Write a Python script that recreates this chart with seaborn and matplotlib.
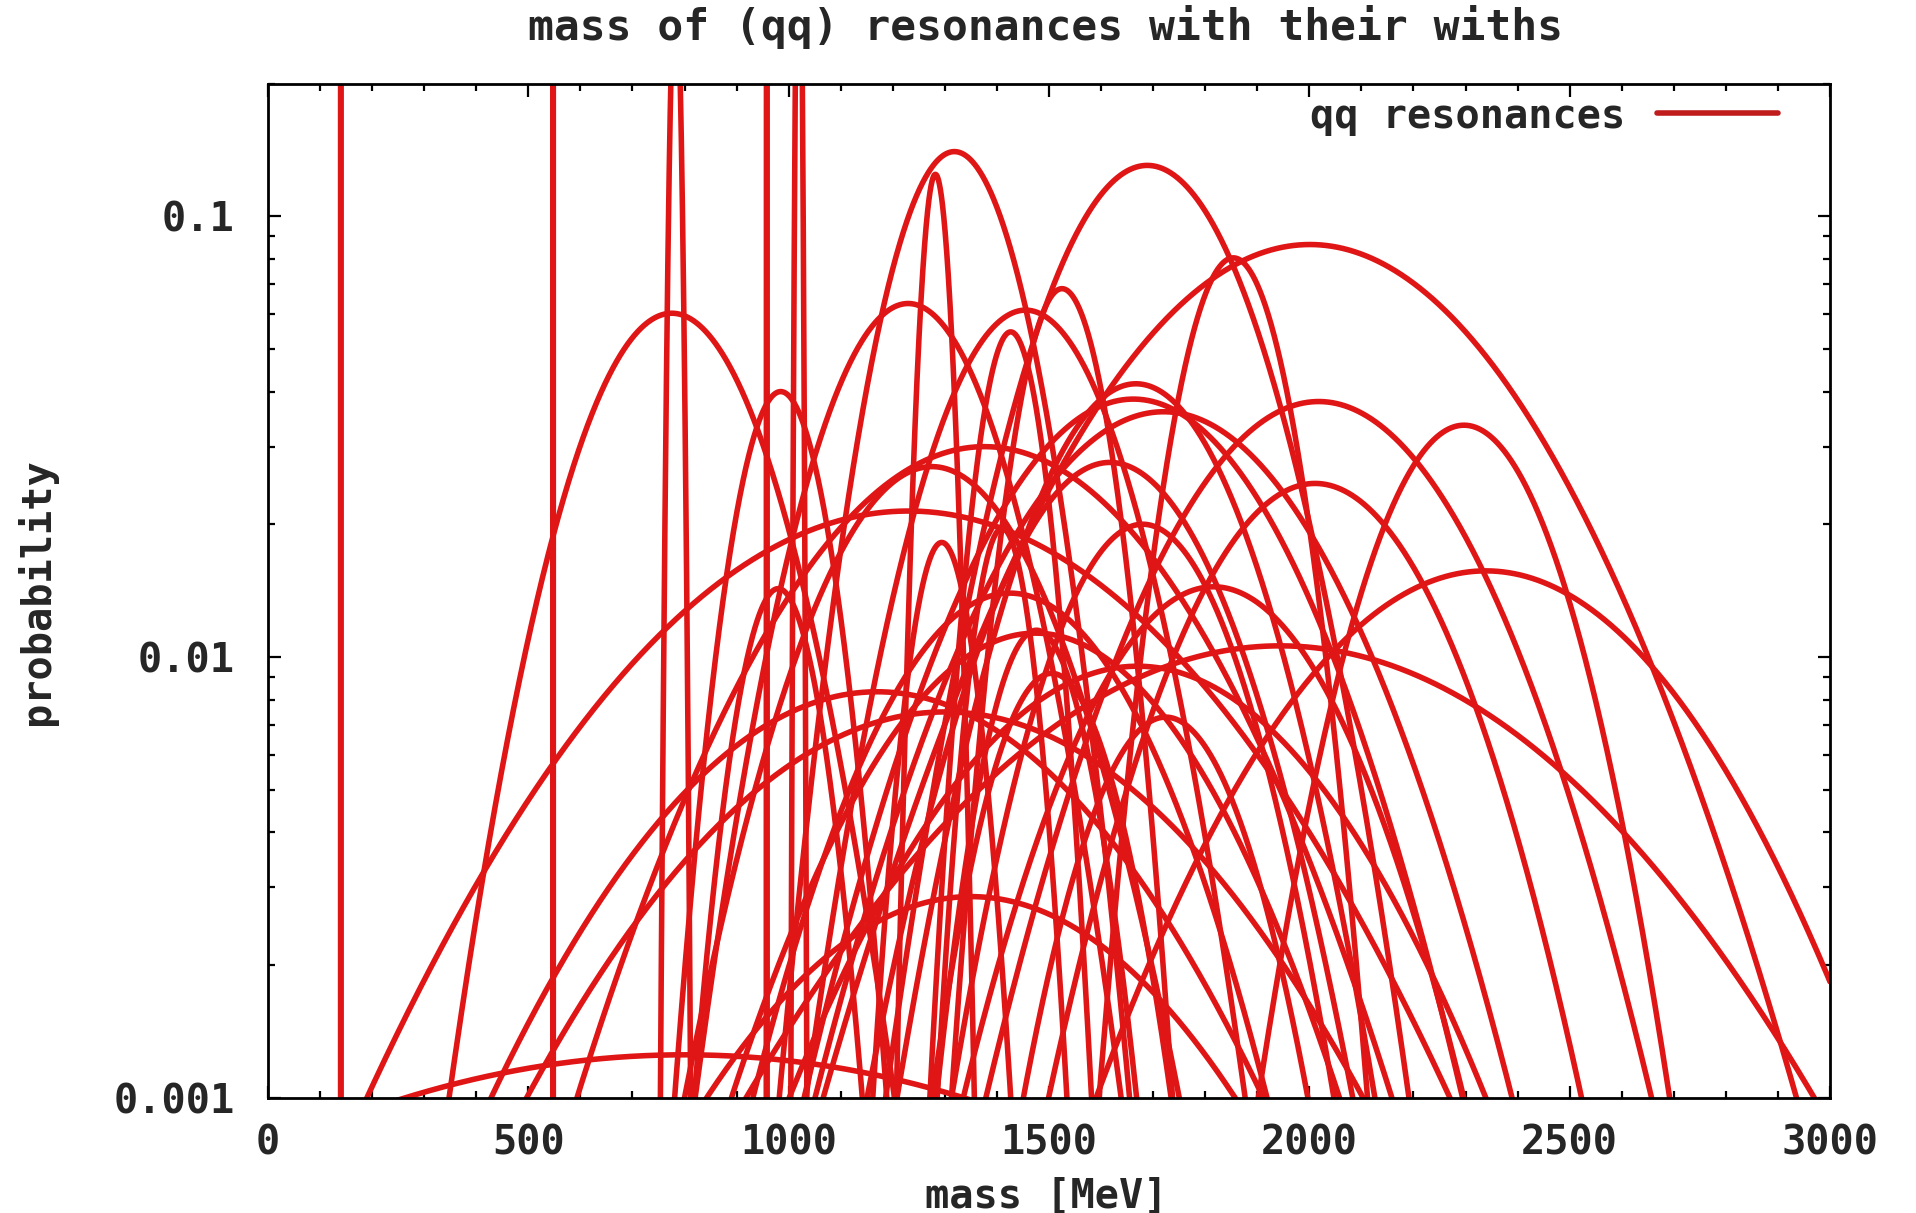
import numpy as np
import pandas as pd
import matplotlib
matplotlib.use("Agg")
import matplotlib.pyplot as plt
from matplotlib.lines import Line2D
from matplotlib.ticker import FixedLocator, MultipleLocator, LogLocator, NullFormatter, FixedFormatter
import seaborn as sns

# light unflavoured (qq) resonances: mass [MeV], width [MeV], spin-isospin weight (2J+1)(2I+1)
names = ["pi", "eta", "f0(600)", "rho(770)", "omega(782)", "eta'(958)", "f0(980)", "a0(980)",
         "phi(1020)", "h1(1170)", "b1(1235)", "a1(1260)", "f2(1270)", "f1(1285)", "eta(1295)",
         "pi(1300)", "a2(1320)", "f0(1370)", "pi1(1400)", "eta(1405)", "f1(1420)", "omega(1420)",
         "a0(1450)", "rho(1450)", "eta(1475)", "f0(1500)", "f2'(1525)", "pi1(1600)", "eta2(1645)",
         "omega(1650)", "omega3(1670)", "phi(1680)", "rho3(1690)", "rho(1700)", "f0(1710)",
         "pi(1800)", "phi3(1850)", "f2(1950)", "f2(2010)", "a4(2040)", "f4(2050)", "f2(2300)",
         "f2(2340)"]
masses = [139.6, 547.9, 800, 775.5, 782.7, 957.8, 980, 984.7,
          1019.5, 1170, 1229.5, 1230, 1275.1, 1281.8, 1294,
          1300, 1318.3, 1350, 1376, 1409.8, 1426.4, 1425,
          1474, 1455, 1476, 1505, 1525, 1662, 1617,
          1670, 1667, 1680, 1688.8, 1720, 1724,
          1816, 1854, 1944, 2011, 2001, 2018, 2297,
          2339]
widths = [1e-5, 0.0013, 800, 149.4, 8.49, 0.205, 70, 75,
          4.26, 360, 142, 420, 185, 24.1, 55,
          400, 107, 350, 300, 51.1, 54.9, 215,
          265, 147, 87, 109, 73, 234, 181,
          315, 168, 150, 161, 250, 137,
          208, 87, 472, 202, 313, 237, 149,
          319]
weights = [3, 1, 1, 9, 3, 1, 1, 3,
           3, 3, 9, 9, 5, 3, 1,
           3, 15, 1, 9, 1, 3, 3,
           3, 9, 1, 1, 5, 9, 5,
           3, 7, 3, 21, 9, 1,
           3, 7, 5, 5, 27, 9, 5,
           5]

x_ticks = [0, 500, 1000, 1500, 2000, 2500, 3000]
y_ticks = [0.001, 0.01, 0.1]
y_tick_labels = ["0.001", "0.01", "0.1"]

# build one long table, one gaussian line per resonance
base = np.linspace(0, 3000, 6001)
frames = []
for name, m, w, g in zip(names, masses, widths, weights):
    x = np.union1d(base, m + w * np.linspace(-8, 8, 321))
    x = x[(x >= 0) & (x <= 3000)]
    p = g / w * np.exp(-0.5 * ((x - m) / w) ** 2)
    frames.append(pd.DataFrame({"mass": x, "prob": np.maximum(p, 1e-30), "res": name}))
df = pd.concat(frames, ignore_index=True)

sns.set_style("ticks")
plt.rcParams["font.family"] = ["DejaVu Sans Mono", "DejaVu Sans"]

red = "#e01515"
fig = plt.figure(figsize=(19.16, 12.13), dpi=100)
ax = fig.add_axes([268 / 1916, 1 - 1097.5 / 1213, (1830 - 268) / 1916, (1097.5 - 83.6) / 1213])

sns.lineplot(data=df, x="mass", y="prob", units="res", estimator=None, sort=False,
             color=red, linewidth=4.0, ax=ax, legend=False)

ax.set_yscale("log")
ax.set_xlim(0, 3000)
ax.set_ylim(0.001, 0.2)

ax.xaxis.set_major_locator(FixedLocator(x_ticks))
ax.xaxis.set_minor_locator(MultipleLocator(100))
ax.yaxis.set_major_locator(FixedLocator(y_ticks))
ax.yaxis.set_major_formatter(FixedFormatter(y_tick_labels))
ax.yaxis.set_minor_locator(LogLocator(base=10, subs=np.arange(2, 10)))
ax.yaxis.set_minor_formatter(NullFormatter())
ax.tick_params(which="both", direction="in", top=True, right=True, width=1.6, color="black")
ax.tick_params(which="major", length=9)
ax.tick_params(which="minor", length=5)
ax.tick_params(axis="x", which="major", pad=19)
ax.tick_params(axis="y", which="major", pad=24)
for lab in ax.get_xticklabels() + ax.get_yticklabels():
    lab.set_fontsize(29)
    lab.set_fontweight("bold")
for s in ax.spines.values():
    s.set_linewidth(2)
    s.set_color("black")
ax.set_xlabel("")
ax.set_ylabel("")

fig.text(1046 / 1916, 1 - 27 / 1213, "mass of (qq) resonances with their withs",
         ha="center", va="center", fontsize=31, fontweight="semibold")
fig.text(1046 / 1916, 1 - 1197 / 1213, "mass [MeV]", ha="center", va="center",
         fontsize=29, fontweight="bold")
fig.text(37 / 1916, 1 - 592 / 1213, "probability", ha="center", va="center",
         rotation=90, fontsize=29, fontweight="semibold")

handle = Line2D([0], [0], color="#c01c1c", linewidth=4.0)
ax.legend([handle], ["qq resonances"], loc="center right", markerfirst=False,
          bbox_to_anchor=((1778 - 268) / 1562, 1 - (116 - 83.6) / 1013.9),
          frameon=False, borderpad=0, borderaxespad=0, handlelength=3.0,
          handletextpad=0.8, prop={"size": 29, "weight": "bold"})

fig.savefig("out.png", dpi=100)
